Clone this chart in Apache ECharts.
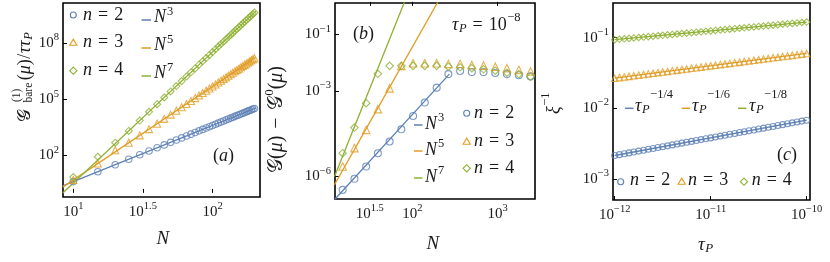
<!DOCTYPE html>
<html><head><meta charset="utf-8">
<script src="https://cdn.jsdelivr.net/npm/echarts@6/dist/echarts.min.js"></script>
<style>html,body{margin:0;padding:0;background:#fff}#c{width:830px;height:262px}</style>
</head><body><div id="c"></div><script>
const SERIF = '"Liberation Serif", "DejaVu Serif", serif';
const INK = '#1a1a1a';
const C2 = '#5E81B5', C3 = '#E19C24', C4 = '#8FB032';

// ---------- Panel (a) ----------
const aN  = [10,15,20,25,30,35,40,45,50,55,60,65,70,75,80,85,90,95,100,105,110,115,120,125,130,135,140,145,150,155,160,165,170,175,180,185,190,195,200];
const aN2 = [4,13.5,32,62.5,108,172,256,365,500,666,864,1100,1370,1690,2050,2460,2920,3430,4000,4630,5320,6080,6910,7810,8790,9840,11000,12200,13500,14900,16400,18000,19700,21400,23300,25300,27400,29700,32000];
const aN3 = [4.84,36.8,190,473,1180,2540,4960,8930,15100,24400,37600,56200,81300,115000,159000,215000,286000,375000,484000,618000,779000,973000,1.20e6,1.48e6,1.80e6,2.17e6,2.60e6,3.10e6,3.68e6,4.33e6,5.08e6,5.92e6,6.87e6,7.94e6,9.15e6,1.05e7,1.20e7,1.36e7,1.55e7];
const aN4 = [7,85,480,2030,7280,21400,54600,124000,260000,507000,932000,1.63e6,2.74e6,4.45e6,6.98e6,1.07e7,1.59e7,2.33e7,3.33e7,4.69e7,6.49e7,8.86e7,1.19e8,1.59e8,2.09e8,2.72e8,3.51e8,4.49e8,5.69e8,7.16e8,8.94e8,1.11e9,1.37e9,1.67e9,2.04e9,2.47e9,2.98e9,3.57e9,4.26e9];
const aFitN = [8.4, 205];
const aFit3 = [2.37, 34460];
const aFit5 = [2.02, 1.75e7];
const aFit7 = [0.983, 5.07e9];
const aXTicks = [1, 1.5, 2];
const aYTicks = [2, 5, 8];

// ---------- Panel (b) ----------
const bN  = [15.2,20.9,28.7,39.4,54.1,74.3,102,140,193,265,364,499,685,941,1290,1780,2440];
const bN2 = [3.39e-7,8.32e-7,2.24e-6,6.61e-6,1.70e-5,4.57e-5,1.35e-4,3.98e-4,1.33e-3,3.98e-3,5.13e-3,4.68e-3,4.68e-3,4.37e-3,3.98e-3,3.63e-3,3.31e-3];
const bN3 = [2.24e-6,1.00e-5,4.37e-5,2.34e-4,1.26e-3,7.76e-3,9.55e-3,9.55e-3,9.55e-3,9.12e-3,9.12e-3,8.32e-3,7.94e-3,7.24e-3,6.46e-3,5.62e-3,4.90e-3];
const bN4 = [6.61e-6,5.25e-5,3.80e-4,4.07e-3,7.76e-3,7.76e-3,7.76e-3,7.76e-3,7.76e-3,7.24e-3,6.92e-3,6.46e-3,5.89e-3,5.25e-3,4.47e-3,3.98e-3,3.24e-3];
const bFit3N = [12.4, 272], bFit3 = [1.62e-7, 3.98e-3];
const bFit5N = [12.2, 200], bFit5 = [5.13e-7, 1.40];
const bFit7N = [12.2, 81.1], bFit7 = [1.0e-6, 1.40];
const bXTicks = [1.5, 2, 3];
const bYTicks = [-6, -3, -1];

// ---------- Panel (c) ----------
const cTau = [1e-12,1.12e-12,1.26e-12,1.41e-12,1.58e-12,1.78e-12,2e-12,2.24e-12,2.51e-12,2.82e-12,3.16e-12,3.55e-12,3.98e-12,4.47e-12,5.01e-12,5.62e-12,6.31e-12,7.08e-12,7.94e-12,8.91e-12,1e-11,1.12e-11,1.26e-11,1.41e-11,1.58e-11,1.78e-11,2e-11,2.24e-11,2.51e-11,2.82e-11,3.16e-11,3.55e-11,3.98e-11,4.47e-11,5.01e-11,5.62e-11,6.31e-11,7.08e-11,7.94e-11,8.91e-11,1e-10];
const cN2 = [0.00214,0.00220,0.00226,0.00233,0.00240,0.00247,0.00254,0.00262,0.00269,0.00277,0.00285,0.00293,0.00302,0.00311,0.00320,0.00329,0.00339,0.00349,0.00359,0.00369,0.00380,0.00391,0.00403,0.00414,0.00427,0.00439,0.00452,0.00465,0.00479,0.00492,0.00507,0.00522,0.00537,0.00552,0.00569,0.00585,0.00602,0.00620,0.00638,0.00657,0.00676];
const cN3 = [0.02661,0.02715,0.02770,0.02827,0.02884,0.02943,0.03003,0.03064,0.03126,0.03190,0.03255,0.03321,0.03388,0.03457,0.03528,0.03600,0.03673,0.03748,0.03824,0.03902,0.03981,0.04062,0.04145,0.04229,0.04315,0.04403,0.04493,0.04584,0.04677,0.04773,0.04870,0.04969,0.05070,0.05173,0.05279,0.05386,0.05496,0.05608,0.05722,0.05838,0.05957];
const cN4 = [0.0933,0.0947,0.0961,0.0975,0.0989,0.1003,0.1017,0.1032,0.1047,0.1062,0.1078,0.1093,0.1109,0.1125,0.1142,0.1158,0.1175,0.1192,0.1209,0.1227,0.1245,0.1263,0.1281,0.1300,0.1318,0.1337,0.1357,0.1376,0.1396,0.1417,0.1437,0.1458,0.1479,0.1501,0.1522,0.1545,0.1567,0.1589,0.1612,0.1636,0.1660];
const cFitTau = [1e-12, 1e-10];
const cFit2 = [0.00214, 0.00676];
const cFit3 = [0.0266, 0.0596];
const cFit4 = [0.0933, 0.1660];
const cXTicks = [-12, -11, -10];
const cYTicks = [-3, -2, -1];

// ---------- helpers ----------
const L = Math.log10;
const pts = (xs, ys) => xs.map((x, i) => [L(x), L(ys[i])]);
function powLabel(v) {
  const e = (v < 0 ? '\u2212' : '') + Math.abs(v);
  return '{b|10}{s|' + e + '}';
}
const tickRich = {
  b: { fontFamily: SERIF, fontSize: 15, lineHeight: 22, color: INK },
  s: { fontFamily: SERIF, fontSize: 10.5, lineHeight: 14, verticalAlign: 'top', color: INK }
};
function xAxis(idx, min, max, ticks) {
  return { type: 'value', gridIndex: idx, min, max,
    axisLine: { show: false }, splitLine: { show: false },
    axisTick: { show: true, inside: true, length: 4, customValues: ticks, lineStyle: { color: '#000', width: 1 } },
    axisLabel: { customValues: ticks, formatter: powLabel, rich: tickRich, margin: 4 } };
}
function yAxis(idx, min, max, ticks) {
  return { type: 'value', gridIndex: idx, min, max,
    axisLine: { show: false }, splitLine: { show: false },
    axisTick: { show: true, inside: true, length: 4, customValues: ticks, lineStyle: { color: '#000', width: 1 } },
    axisLabel: { customValues: ticks, formatter: powLabel, rich: tickRich, margin: 4 } };
}
function scat(idx, data, sym, color, size) {
  return { type: 'scatter', xAxisIndex: idx, yAxisIndex: idx, data, symbol: sym, symbolSize: size,
    itemStyle: { color: 'rgba(0,0,0,0)', borderColor: color, borderWidth: 1.1 }, silent: true, z: 3 };
}
function fit(idx, data, color) {
  return { type: 'line', xAxisIndex: idx, yAxisIndex: idx, data, showSymbol: false, symbol: 'none',
    lineStyle: { color, width: 1.3 }, clip: true, silent: true, z: 2 };
}

// text layout with measured widths
const mctx = document.createElement('canvas').getContext('2d');
function fontStr(size, it) { return (it ? 'italic ' : '') + size + 'px ' + SERIF; }
function tw(t, size, it) { mctx.font = fontStr(size, it); return mctx.measureText(t).width; }
function mtext(x0, y0, segs, def) {
  const out = []; let cx = x0; const ds = def || 18;
  for (const g of segs) {
    const size = g.s || ds;
    if (g.x !== undefined) cx = x0 + g.x;
    cx += g.pre || 0;
    out.push({ type: 'text', x: cx, y: y0 + (g.dy || 0), silent: true,
      style: { text: g.t, font: fontStr(size, g.i), fill: INK, align: 'left', verticalAlign: 'middle' } });
    if (g.adv !== false) cx += tw(g.t, size, g.i);
  }
  return out;
}
function circ(x, y, c) { return { type: 'circle', shape: { cx: x, cy: y, r: 3 }, style: { fill: 'none', stroke: c, lineWidth: 1.1 }, silent: true }; }
function tri(x, y, c) { return { type: 'polygon', shape: { points: [[x, y - 3.6], [x + 3.6, y + 2.6], [x - 3.6, y + 2.6]] }, style: { fill: 'none', stroke: c, lineWidth: 1.1 }, silent: true }; }
function dia(x, y, c) { return { type: 'polygon', shape: { points: [[x, y - 3.6], [x + 3.6, y], [x, y + 3.6], [x - 3.6, y]] }, style: { fill: 'none', stroke: c, lineWidth: 1.1 }, silent: true }; }
function dash(x1, x2, y, c) { return { type: 'line', shape: { x1, y1: y, x2, y2: y }, style: { stroke: c, lineWidth: 1.5 }, silent: true }; }
const nEq = (k) => [{ t: 'n', i: true }, { t: '=', pre: 6 }, { t: String(k), pre: 6 }];
const G = '\uD835\uDCA2';

const graphics = [];
// legend (a)
[[15, C2, circ, 2], [42.7, C3, tri, 3], [70.7, C4, dia, 4]].forEach(([y, c, f, k]) => {
  graphics.push(f(73.3, y, c));
  graphics.push(...mtext(83, y, nEq(k)));
});
[[20, 17.5, C2, '3'], [48, 45.5, C3, '5'], [76, 73.5, C4, '7']].forEach(([yd, yt, c, p]) => {
  graphics.push(dash(141.5, 151, yd, c));
  graphics.push(...mtext(154, yt, [{ t: 'N', i: true }, { t: p, s: 12.5, dy: -6, pre: 1 }]));
});
graphics.push(...mtext(213, 156, [{ t: '(' }, { t: 'a', i: true }, { t: ')' }]));
// legend (b)
[[125, 124, C2, '3'], [151, 150, C3, '5'], [178, 177, C4, '7']].forEach(([yd, yt, c, p]) => {
  graphics.push(dash(414, 422.5, yd, c));
  graphics.push(...mtext(425, yt, [{ t: 'N', i: true }, { t: p, s: 12.5, dy: -6, pre: 1 }]));
});
[[113.3, C2, circ, 2], [141.7, C3, tri, 3], [168.3, C4, dia, 4]].forEach(([y, c, f, k]) => {
  graphics.push(f(466.7, y, c));
  graphics.push(...mtext(474, y, nEq(k)));
});
graphics.push(...mtext(353, 34, [{ t: '(' }, { t: 'b', i: true }, { t: ')' }]));
graphics.push(...mtext(452, 25, [{ t: '\u03C4', i: true }, { t: 'P', i: true, s: 12.5, dy: 4, pre: 0.5 },
  { t: '=', pre: 6 }, { t: '10', pre: 6 }, { t: '\u22128', s: 12.5, dy: -7, pre: 0.5 }]));
// legend (c)
[[625, 635, C2, '\u22121/4'], [681.7, 692, C3, '\u22121/6'], [738, 749, C4, '\u22121/8']].forEach(([xd, xt, c, p]) => {
  graphics.push(dash(xd, xd + 8.5, 108.3, c));
  graphics.push(...mtext(xt, 106, [{ t: '\u03C4', i: true }, { t: 'P', i: true, s: 12.5, dy: 4, pre: 0.5 }, { t: p, i: false, s: 12.5, dy: -11, pre: 0.5 }]));
});
[[620.7, 630, C2, circ, 2], [681.7, 688, C3, tri, 3], [744, 751.7, C4, dia, 4]].forEach(([xm, xt, c, f, k]) => {
  graphics.push(f(xm, 181.7, c));
  graphics.push(...mtext(xt, 180.5, nEq(k)));
});
graphics.push(...mtext(777, 155, [{ t: '(' }, { t: 'c', i: true }, { t: ')' }]));
// axis titles
graphics.push(...mtext(156.5, 239, [{ t: 'N', i: true, s: 19 }]));
graphics.push(...mtext(426.5, 244, [{ t: 'N', i: true, s: 19 }]));
graphics.push(...mtext(698, 245, [{ t: '\u03C4', i: true, s: 19 }, { t: 'P', i: true, s: 13, dy: 4, pre: 0.5 }]));
// rotated y titles
graphics.push({ type: 'group', x: 25, y: 122, rotation: Math.PI / 2, silent: true, children: mtext(0, 0, [
  { t: G, s: 18 },
  { t: '(1)', s: 11.5, dy: -8.5, x: 20, adv: false },
  { t: 'bare', s: 11.5, dy: 4, x: 19.5 },
  { t: '(', pre: 2.5 }, { t: '\u03BC', i: true }, { t: ')' }, { t: '/', pre: 0.5 }, { t: '\u03C4\u03C4', i: true, pre: 0.5 },
  { t: 'P', i: true, s: 12.5, dy: 4, pre: 0.5 }]) });
graphics.push({ type: 'group', x: 277, y: 173, rotation: Math.PI / 2, silent: true, children: mtext(0, 0, [
  { t: G }, { t: '(' }, { t: '\u03BC', i: true }, { t: ')' },
  { t: '\u2212', pre: 7 }, { t: G, pre: 7 }, { t: '0', s: 13, dy: -7.5, pre: 0.5 },
  { t: '(' }, { t: '\u03BC', i: true }, { t: ')' }], 20) });
graphics.push({ type: 'group', x: 554, y: 114, rotation: Math.PI / 2, silent: true, children: mtext(0, 0, [
  { t: '\u03BE', i: true, s: 18 }, { t: '\u22121', s: 12.5, dy: -8, pre: 0.5 }]) });

const option = {
  animation: false,
  grid: [
    { left: 63, top: 3, width: 197, height: 194, show: true, borderColor: '#000', borderWidth: 1.6, backgroundColor: 'transparent' },
    { left: 335, top: 3, width: 200, height: 196, show: true, borderColor: '#000', borderWidth: 1.6, backgroundColor: 'transparent' },
    { left: 613, top: 3, width: 197, height: 197, show: true, borderColor: '#000', borderWidth: 1.6, backgroundColor: 'transparent' }
  ],
  xAxis: [xAxis(0, 0.926, 2.341, aXTicks), xAxis(1, 1.092, 3.44, bXTicks), xAxis(2, -12.018, -9.965, cXTicks)],
  yAxis: [yAxis(0, -0.22, 10.14, aYTicks), yAxis(1, -6.79, 0.10, bYTicks), yAxis(2, -3.30, -0.51, cYTicks)],
  series: [
    fit(0, pts(aFitN, aFit3), C2), fit(0, pts(aFitN, aFit5), C3), fit(0, pts(aFitN, aFit7), C4),
    scat(0, pts(aN, aN2), 'circle', C2, 6.5), scat(0, pts(aN, aN3), 'triangle', C3, 7), scat(0, pts(aN, aN4), 'diamond', C4, 7),
    fit(1, pts(bFit3N, bFit3), C2), fit(1, pts(bFit5N, bFit5), C3), fit(1, pts(bFit7N, bFit7), C4),
    scat(1, pts(bN, bN2), 'circle', C2, 7), scat(1, pts(bN, bN3), 'triangle', C3, 7.5), scat(1, pts(bN, bN4), 'diamond', C4, 7.5),
    fit(2, pts(cFitTau, cFit2), C2), fit(2, pts(cFitTau, cFit3), C3), fit(2, pts(cFitTau, cFit4), C4),
    scat(2, pts(cTau, cN2), 'circle', C2, 6), scat(2, pts(cTau, cN3), 'triangle', C3, 6.5), scat(2, pts(cTau, cN4), 'diamond', C4, 6.5)
  ],
  graphic: graphics
};
const chart = echarts.init(document.getElementById('c'), null, { renderer: 'canvas' });
chart.setOption(option);
</script></body></html>
